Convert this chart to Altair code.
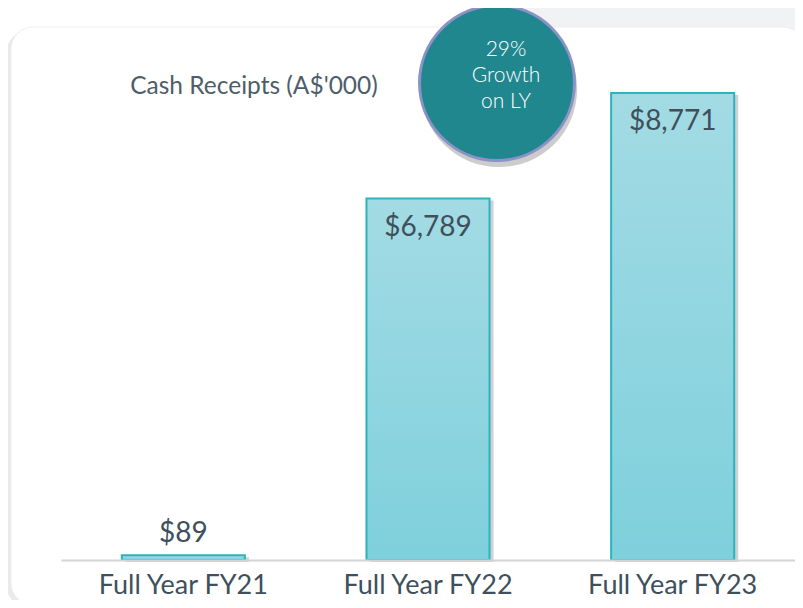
import altair as alt
import pandas as pd

categories = ["Full Year FY21", "Full Year FY22", "Full Year FY23"]
values = [89, 6789, 8771]
title_text = "Cash Receipts (A$'000)"
growth_lines = ["29%", "Growth", "on LY"]

df = pd.DataFrame({"period": categories, "value": values})
df["label"] = ["$" + f"{v:,}" for v in values]
df["big"] = [v > 1000 for v in values]

FONT = "Lato"
TXT = "#3e505c"

x_enc = alt.X(
    "period:N", sort=categories,
    scale=alt.Scale(paddingInner=0.497, paddingOuter=0.2485),
    axis=alt.Axis(title=None, labelFont=FONT, labelFontSize=27, labelColor=TXT,
                  labelPadding=39, labelBaseline="bottom", labelAngle=0,
                  domainColor="#d4d4d4", domainWidth=2, ticks=False, tickSize=0,
                  grid=False, zindex=1),
)
y_enc = alt.Y("value:Q", scale=alt.Scale(domain=[0, 10367.6], nice=False), axis=None)

dummy = alt.Chart(pd.DataFrame({"d": [0]}))

top_band = dummy.mark_rect(color="#f1f2f4").encode(
    x=alt.value(409), x2=alt.value(742), y=alt.value(-8), y2=alt.value(32))
card_shadow = dummy.mark_rect(color="#dcdcdc", cornerRadius=24, opacity=0.6).encode(
    x=alt.value(-55), x2=alt.value(744), y=alt.value(22), y2=alt.value(600))
card = dummy.mark_rect(color="white", cornerRadius=22, stroke="#eeeeee", strokeWidth=1).encode(
    x=alt.value(-50), x2=alt.value(744), y=alt.value(19), y2=alt.value(597))

title = dummy.mark_text(text=title_text, font=FONT, fontSize=24.5, color="#4d5d69",
                        baseline="middle", align="center").encode(
    x=alt.value(193), y=alt.value(79))

base = alt.Chart(df)

bar_shadow = base.mark_bar(color="#7a7a7a", opacity=0.35, xOffset=4, yOffset=2).encode(
    x=x_enc, y=y_enc)

grad = alt.Gradient(
    gradient="linear",
    stops=[alt.GradientStop(color="#a3dbe4", offset=0),
           alt.GradientStop(color="#7ed0dc", offset=1)],
    x1=0, x2=0, y1=0, y2=1)

bars = base.mark_bar(color=grad, stroke="#2cb3bf", strokeWidth=2).encode(x=x_enc, y=y_enc)

labels_in = base.transform_filter("datum.big").mark_text(
    font=FONT, fontSize=28, color=TXT, baseline="alphabetic", dy=37).encode(
    x=x_enc, y=y_enc, text="label:N")
labels_out = base.transform_filter("!datum.big").mark_text(
    font=FONT, fontSize=28, color=TXT, baseline="alphabetic", dy=-13).encode(
    x=x_enc, y=y_enc, text="label:N")

circle_shadow = dummy.mark_circle(color="#555555", opacity=0.3, size=24400, xOffset=2, yOffset=6).encode(
    x=alt.value(436), y=alt.value(75))
circle = dummy.mark_circle(color="#21878f", opacity=1, size=24025, stroke="#8b93c6", strokeWidth=3).encode(
    x=alt.value(436), y=alt.value(75))
circle_text = dummy.mark_text(text=growth_lines, font=FONT, fontSize=21, fontWeight=300, color="white",
                              lineHeight=26, baseline="middle", align="center").encode(
    x=alt.value(445), y=alt.value(42))

chart = alt.layer(
    top_band, card_shadow, card, title, bar_shadow, bars, labels_in, labels_out,
    circle_shadow, circle, circle_text
).properties(
    width=734, height=552,
    autosize=alt.AutoSizeParams(type="none"),
    padding={"left": 53, "top": 0, "right": 0, "bottom": 40},
    background="white",
).configure_view(stroke=None)

chart.save("out.html", embed_options={"renderer": "svg", "actions": False})
